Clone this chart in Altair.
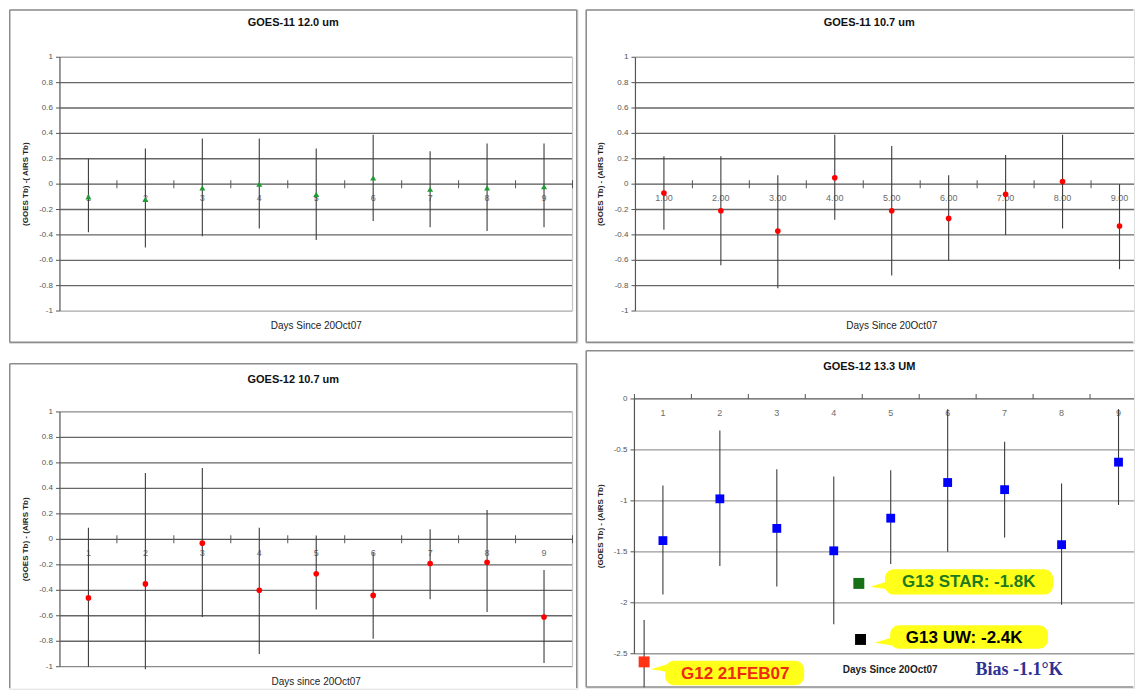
import altair as alt
import pandas as pd

FONT = "Liberation Sans"

# ---------------- data ----------------
days = [1, 2, 3, 4, 5, 6, 7, 8, 9]
day_labels_int = ["1", "2", "3", "4", "5", "6", "7", "8", "9"]
day_labels_dec = ["1.00", "2.00", "3.00", "4.00", "5.00", "6.00", "7.00", "8.00", "9.00"]
cat_bounds = [1.5, 2.5, 3.5, 4.5, 5.5, 6.5, 7.5, 8.5, 9.5]
cat_bounds_top = [0.5, 1.5, 2.5, 3.5, 4.5, 5.5, 6.5, 7.5, 8.5]

ticks_pm1 = [1.0, 0.8, 0.6, 0.4, 0.2, 0.0, -0.2, -0.4, -0.6, -0.8, -1.0]
ticks_pm1_labels = ["1", "0.8", "0.6", "0.4", "0.2", "0", "-0.2", "-0.4", "-0.6", "-0.8", "-1"]
ticks_133 = [0.0, -0.5, -1.0, -1.5, -2.0, -2.5]
ticks_133_labels = ["0", "-0.5", "-1", "-1.5", "-2", "-2.5"]

# GOES-11 12.0 um
g11_120_mean = [-0.10, -0.12, -0.03, 0.00, -0.08, 0.05, -0.04, -0.03, -0.02]
g11_120_hi = [0.20, 0.28, 0.36, 0.36, 0.28, 0.39, 0.26, 0.32, 0.32]
g11_120_lo = [-0.38, -0.50, -0.41, -0.35, -0.44, -0.29, -0.34, -0.37, -0.34]

# GOES-11 10.7 um
g11_107_mean = [-0.07, -0.21, -0.37, 0.05, -0.21, -0.27, -0.08, 0.02, -0.33]
g11_107_hi = [0.22, 0.22, 0.07, 0.39, 0.30, 0.07, 0.23, 0.39, 0.00]
g11_107_lo = [-0.36, -0.64, -0.82, -0.28, -0.72, -0.60, -0.40, -0.35, -0.67]

# GOES-12 10.7 um
g12_107_mean = [-0.46, -0.35, -0.03, -0.40, -0.27, -0.44, -0.19, -0.18, -0.61]
g12_107_hi = [0.09, 0.52, 0.56, 0.09, 0.03, -0.10, 0.08, 0.23, -0.24]
g12_107_lo = [-1.00, -1.02, -0.61, -0.90, -0.55, -0.78, -0.47, -0.57, -0.97]

# GOES-12 13.3 um
g12_133_mean = [-1.39, -0.98, -1.27, -1.49, -1.17, -0.82, -0.89, -1.43, -0.62]
g12_133_hi = [-0.85, -0.31, -0.69, -0.76, -0.70, -0.10, -0.42, -0.83, -0.10]
g12_133_lo = [-1.92, -1.64, -1.84, -2.21, -1.62, -1.50, -1.36, -2.02, -1.04]

# reference annotations in the 13.3 um panel
ref_names = ["G12 21FEB07", "G13 STAR: -1.8K", "G13 UW: -2.4K"]
ref_day = [0.67, 4.44, 4.47]
ref_value = [-2.58, -1.81, -2.36]
ref_marker_colors = ["#ff3311", "#167016", "#000000"]
ref_text_colors = ["#ee2a10", "#1d7a1d", "#000000"]
ref_err_hi = [-2.17]
ref_err_lo = [-2.83]
box_x1 = [1.04, 4.90, 4.99]
box_x2 = [3.48, 7.85, 7.76]
box_y1 = [-2.57, -1.67, -2.22]
box_y2 = [-2.81, -1.92, -2.45]
text_day = [2.27, 6.37, 6.29]
text_value = [-2.70, -1.80, -2.35]
tail_day = [0.94, 4.79, 4.87]
tail_value = [-2.64, -1.83, -2.38]

bias_text = ["Bias -1.1°K"]


def one(**kw):
    return pd.DataFrame({k: [v] for k, v in kw.items()})


def frame(W, H, right=True, bottom=True):
    base = alt.Chart(one(k=0)).mark_rule(color="#8c8c8c", strokeWidth=1.5)
    e = 0.75
    ls = [
        base.encode(x=alt.value(e), x2=alt.value(W - e), y=alt.value(e)),
        base.encode(x=alt.value(e), y=alt.value(e), y2=alt.value(H - e)),
    ]
    if bottom:
        ls.append(base.encode(x=alt.value(e), x2=alt.value(W - e), y=alt.value(H - e)))
    if right:
        ls.append(base.encode(x=alt.value(W - e), y=alt.value(e), y2=alt.value(H - e)))
    return ls


def build_panel(W, H, xr, yr, ydom, ticks, tick_labels, cat_labels, mean, lo, hi,
                marker, title, title_xy, ytitle, ytitle_x, xtitle, xtitle_xy,
                grid_color, edge_color, right=True, bottom=True, top_axis=False,
                xtitle_bold=False, extra=None):
    xs = alt.Scale(domain=[0.5, 9.5], range=xr, nice=False, zero=False)
    ys = alt.Scale(domain=ydom, range=yr, nice=False, zero=False)

    def X(f):
        return alt.X(f, type="quantitative", scale=xs, axis=None)

    def Y(f):
        return alt.Y(f, type="quantitative", scale=ys, axis=None)

    ymin, ymax = ydom
    layers = frame(W, H, right, bottom)

    # gridlines
    inner = [v for v in ticks if v not in (0.0, ymin, ymax)]
    edges = [v for v in ticks if v in (ymin, ymax) and v != 0.0]
    layers.append(alt.Chart(pd.DataFrame({"v": inner, "a": 0.5, "b": 9.5}))
                  .mark_rule(color=grid_color, strokeWidth=1.3, clip=True)
                  .encode(x=X("a"), x2=alt.X2("b"), y=Y("v")))
    layers.append(alt.Chart(pd.DataFrame({"v": edges, "a": 0.5, "b": 9.5}))
                  .mark_rule(color=edge_color, strokeWidth=1.3, clip=True)
                  .encode(x=X("a"), x2=alt.X2("b"), y=Y("v")))
    if right:
        layers.append(alt.Chart(one(a=9.5, lo=ymin, hi=ymax))
                      .mark_rule(color="#c4c4c4", strokeWidth=1.2)
                      .encode(x=X("a"), y=Y("lo"), y2=alt.Y2("hi")))

    # y axis
    layers.append(alt.Chart(one(a=0.5, lo=ymin, hi=ymax))
                  .mark_rule(color="#555555", strokeWidth=1.2)
                  .encode(x=X("a"), y=Y("lo"), y2=alt.Y2("hi")))
    ydf = pd.DataFrame({"v": ticks, "t": tick_labels, "a": 0.5})
    layers.append(alt.Chart(ydf).mark_tick(orient="horizontal", size=4, thickness=1,
                                           xOffset=-2, color="#555555", opacity=1)
                  .encode(x=X("a"), y=Y("v")))
    layers.append(alt.Chart(ydf).mark_text(align="right", baseline="middle", dx=-7,
                                           fontSize=8, font=FONT, color="#555555")
                  .encode(x=X("a"), y=Y("v"), text="t:N"))

    # category axis at zero
    layers.append(alt.Chart(one(a=0.5, b=9.5, z=0.0))
                  .mark_rule(color="#555555", strokeWidth=1.3, clip=True)
                  .encode(x=X("a"), x2=alt.X2("b"), y=Y("z")))
    bdf = pd.DataFrame({"b": cat_bounds_top if top_axis else cat_bounds, "z": 0.0})
    if top_axis:
        tk = alt.Chart(bdf).mark_tick(orient="vertical", size=5, thickness=1, yOffset=-2.5,
                                      color="#555555", opacity=1, clip=True)
    else:
        tk = alt.Chart(bdf).mark_tick(orient="vertical", size=8, thickness=1,
                                      color="#555555", opacity=1, clip=True)
    layers.append(tk.encode(x=X("b"), y=Y("z")))
    cdf = pd.DataFrame({"d": days, "t": cat_labels, "z": 0.0})
    layers.append(alt.Chart(cdf).mark_text(baseline="middle", dy=14, fontSize=9,
                                           font=FONT, color="#6b6b6b")
                  .encode(x=X("d"), y=Y("z"), text="t:N"))

    # error bars + markers
    pdf = pd.DataFrame({"d": days, "m": mean, "lo": lo, "hi": hi})
    layers.append(alt.Chart(pdf).mark_rule(color="#3c3c3c", strokeWidth=1.1)
                  .encode(x=X("d"), y=Y("lo"), y2=alt.Y2("hi")))
    if marker == "triangle":
        mk = alt.Chart(pdf).mark_point(shape="triangle-up", filled=True, size=36,
                                       color="#1f9a35", opacity=1)
    elif marker == "circle":
        mk = alt.Chart(pdf).mark_circle(size=32, color="#ff0000", opacity=1)
    else:
        mk = alt.Chart(pdf).mark_square(size=78, color="#0000ff", opacity=1)
    layers.append(mk.encode(x=X("d"), y=Y("m")))

    # titles
    layers.append(alt.Chart(one(t=title)).mark_text(fontSize=11, fontWeight="bold",
                                                    font=FONT, color="#111111")
                  .encode(x=alt.value(title_xy[0]), y=alt.value(title_xy[1]), text="t:N"))
    layers.append(alt.Chart(one(t=xtitle)).mark_text(
        fontSize=10, font=FONT, color="#222222",
        fontWeight="bold" if xtitle_bold else "normal")
        .encode(x=alt.value(xtitle_xy[0]), y=alt.value(xtitle_xy[1]), text="t:N"))
    layers.append(alt.Chart(one(t=ytitle)).mark_text(fontSize=8, fontWeight="bold", angle=270,
                                                     font=FONT, color="#222222")
                  .encode(x=alt.value(ytitle_x), y=alt.value((yr[0] + yr[1]) / 2), text="t:N"))

    if extra is not None:
        layers.extend(extra(X, Y))

    return alt.layer(*layers).properties(width=W, height=H)


def annotations(X, Y):
    ls = []
    adf = pd.DataFrame({
        "name": ref_names, "d": ref_day, "v": ref_value,
        "mc": ref_marker_colors, "tc": ref_text_colors,
        "x1": box_x1, "x2": box_x2, "y1": box_y1, "y2": box_y2,
        "td": text_day, "tv": text_value, "ld": tail_day, "lv": tail_value,
    })
    # G12 error bar
    ls.append(alt.Chart(pd.DataFrame({"d": ref_day[:1], "lo": ref_err_lo, "hi": ref_err_hi}))
              .mark_rule(color="#3c3c3c", strokeWidth=1.1)
              .encode(x=X("d"), y=Y("lo"), y2=alt.Y2("hi")))
    # callout boxes
    ls.append(alt.Chart(adf).mark_rect(color="#ffff1a", cornerRadius=9, opacity=1)
              .encode(x=X("x1"), x2=alt.X2("x2"), y=Y("y1"), y2=alt.Y2("y2")))
    ls.append(alt.Chart(adf).mark_point(shape="M1,-0.45L-1,0.15L1,0.45Z", filled=True,
                                        size=300, color="#ffff1a", opacity=1)
              .encode(x=X("ld"), y=Y("lv")))
    ls.append(alt.Chart(adf).mark_text(fontSize=17, fontWeight="bold", font=FONT,
                                       baseline="middle")
              .encode(x=X("td"), y=Y("tv"), text="name:N",
                      color=alt.Color("tc:N", scale=None)))
    ls.append(alt.Chart(adf).mark_square(size=120, opacity=1)
              .encode(x=X("d"), y=Y("v"), color=alt.Color("mc:N", scale=None)))
    # bias note
    ls.append(alt.Chart(pd.DataFrame({"t": bias_text})).mark_text(
        fontSize=18, fontWeight="bold", font="Liberation Serif", color="#2e3192")
        .encode(x=alt.value(434), y=alt.value(320), text="t:N"))
    return ls


p1 = build_panel(569, 334, [51, 564], [302, 48], [-1, 1], ticks_pm1, ticks_pm1_labels,
                 day_labels_int, g11_120_mean, g11_120_lo, g11_120_hi, "triangle",
                 "GOES-11 12.0 um", (284.5, 14), "(GOES Tb) -( AIRS Tb)", 17,
                 "Days Since 20Oct07", (307.5, 317), "#666666", "#a8a8a8")
p2 = build_panel(549, 334, [50, 563], [302, 48], [-1, 1], ticks_pm1, ticks_pm1_labels,
                 day_labels_dec, g11_107_mean, g11_107_lo, g11_107_hi, "circle",
                 "GOES-11 10.7 um", (284, 14), "(GOES Tb) - (AIRS Tb)", 16,
                 "Days Since 20Oct07", (306.5, 317), "#666666", "#a8a8a8", right=False)
p3 = build_panel(569, 326, [51, 564], [304, 49], [-1, 1], ticks_pm1, ticks_pm1_labels,
                 day_labels_int, g12_107_mean, g12_107_lo, g12_107_hi, "circle",
                 "GOES-12 10.7 um", (284.5, 17), "(GOES Tb) - (AIRS Tb)", 17,
                 "Days since 20Oct07", (307.5, 319), "#666666", "#8a8a8a", bottom=False)
p4 = build_panel(549, 338, [49, 562], [304, 49], [-2.5, 0], ticks_133, ticks_133_labels,
                 day_labels_int, g12_133_mean, g12_133_lo, g12_133_hi, "square",
                 "GOES-12 13.3 UM", (284, 17), "(GOES Tb) - (AIRS Tb)", 16,
                 "Days Since 20Oct07", (305, 320), "#9a9a9a", "#9a9a9a", right=False,
                 top_axis=True, xtitle_bold=True, extra=annotations)

chart = alt.hconcat(
    alt.vconcat(p1, p3, spacing=18),
    alt.vconcat(p2, p4, spacing=5),
    spacing=6,
).properties(padding=0).configure_view(strokeWidth=0).configure(font=FONT)

chart.save("out.html", embed_options={"renderer": "svg", "actions": False})
